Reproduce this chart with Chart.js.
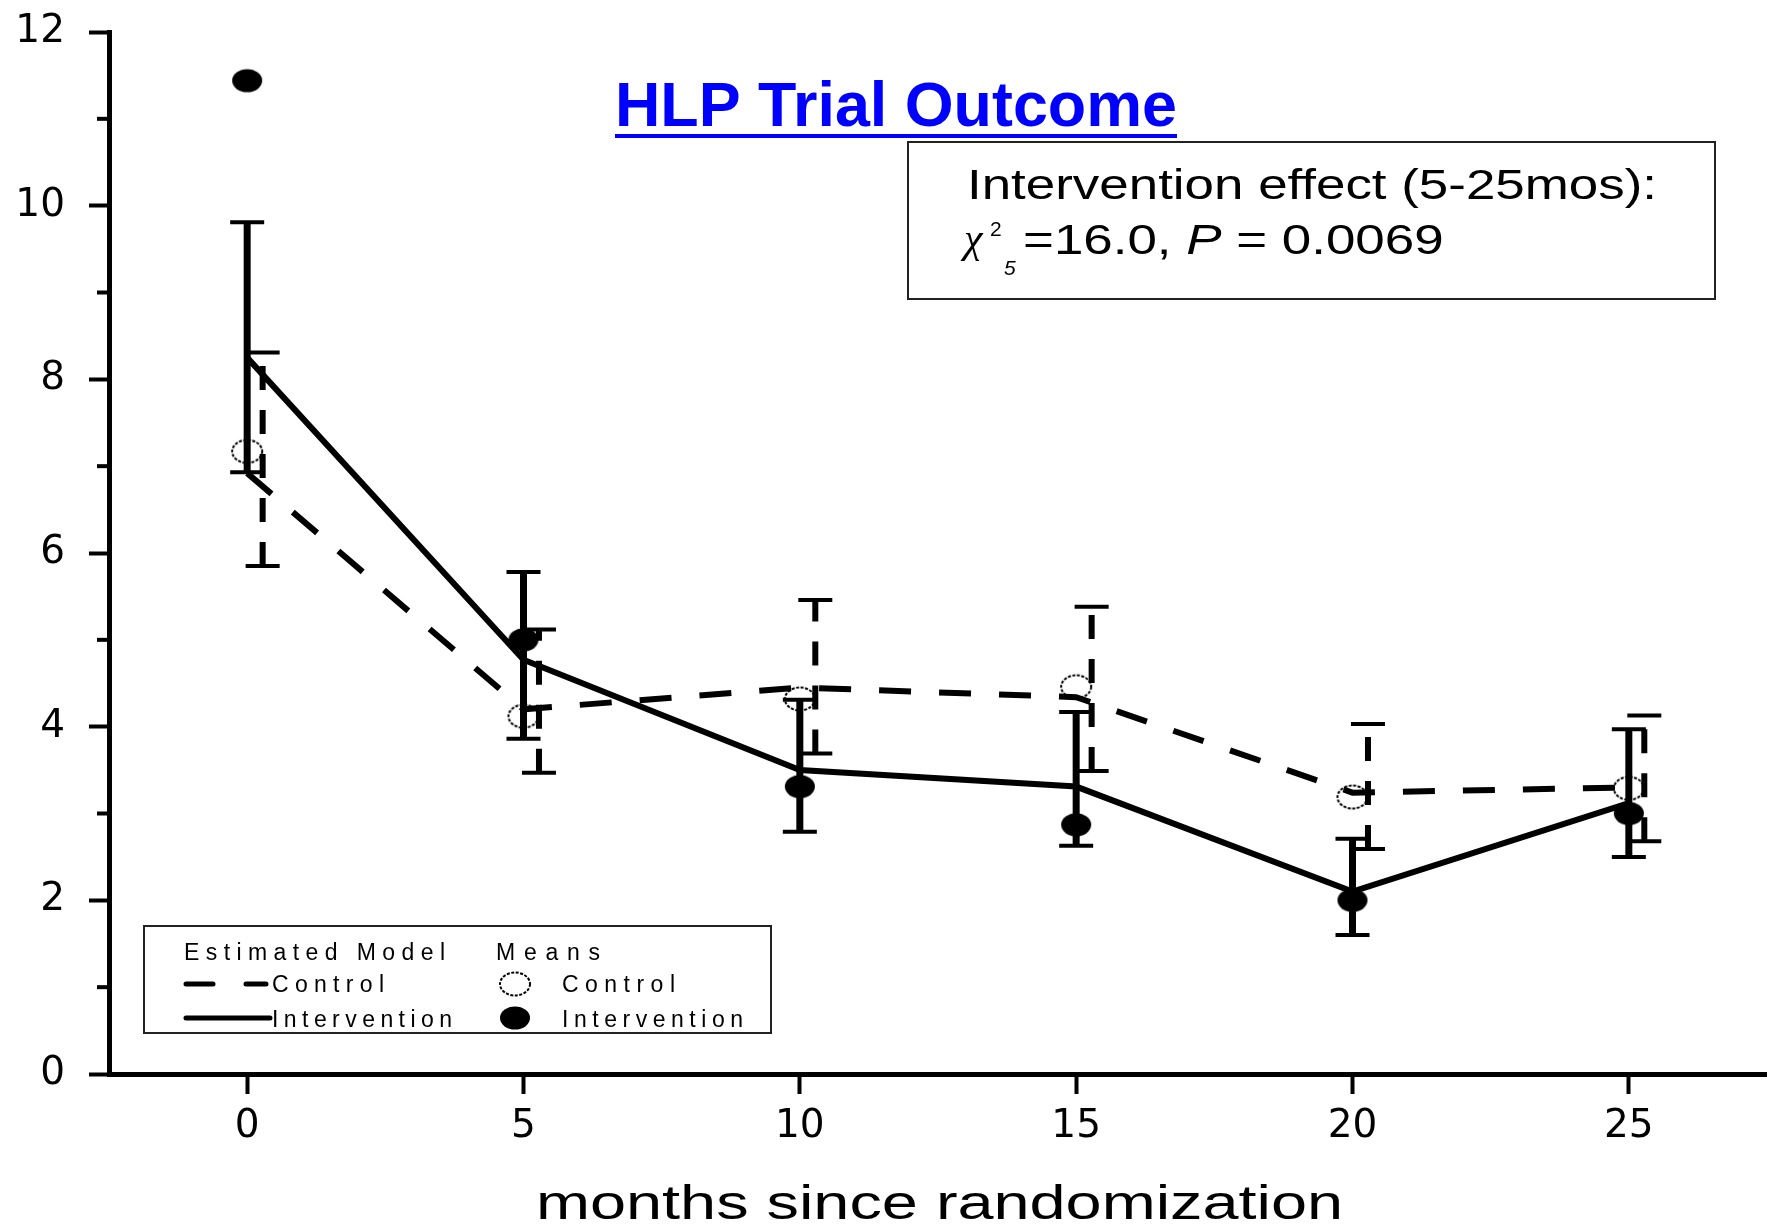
<!DOCTYPE html>
<html>
<head>
<meta charset="utf-8">
<title>HLP Trial Outcome</title>
<script src="https://cdn.jsdelivr.net/npm/chart.js@4.4.1/dist/chart.umd.min.js"></script>
<style>
  html, body { margin: 0; padding: 0; background: #fff; }
  #wrap { width: 1767px; height: 1226px; }
</style>
</head>
<body>
<div id="wrap"><canvas id="chart" width="1767" height="1226"></canvas></div>
<script>
// ---------------- Data ----------------
const months = [0, 5, 10, 15, 20, 25];
const controlModel = [6.92, 4.20, 4.45, 4.34, 3.24, 3.30];
const interventionModel = [8.25, 4.77, 3.50, 3.31, 2.10, 3.12];
const controlMean = [7.17, 4.12, 4.32, 4.46, 3.19, 3.29];
const interventionMean = [11.44, 5.00, 3.31, 2.87, 2.00, 3.00];
const interventionLow = [6.93, 3.86, 2.79, 2.63, 1.60, 2.50];
const interventionHigh = [9.81, 5.78, 4.31, 4.17, 2.71, 3.97];
const controlLow = [5.85, 3.47, 3.69, 3.49, 2.59, 2.68];
const controlHigh = [8.31, 5.12, 5.46, 5.38, 4.03, 4.13];
const xTicks = [0, 5, 10, 15, 20, 25];
const yTicks = [0, 2, 4, 6, 8, 10, 12];
const yMinorTicks = [1, 3, 5, 7, 9, 11];

// control error bars sit a little to the right of the month
const controlShift = 0.28;

// ---------------- Markers ----------------
function ellipseMarker(filled){
    const c = document.createElement('canvas');
    c.width = 34; c.height = 28;
    const g = c.getContext('2d');
    g.beginPath();
    g.ellipse(17, 14, 15, 11.5, 0, 0, Math.PI * 2);
    if(filled){ g.fillStyle = '#000'; g.fill(); }
    else { g.setLineDash([3, 1.5]); g.lineWidth = 2; g.strokeStyle = '#000'; g.stroke(); }
    return c;
}
const openDot = ellipseMarker(false);
const fullDot = ellipseMarker(true);

const pts = (ys, shift) => months.map((m, i) => ({x: m + (shift || 0), y: ys[i]}));

// ---------------- Datasets ----------------
const datasets = [
    {label: 'Control model', data: pts(controlModel), borderColor: '#000', borderWidth: 6, borderDash: [32, 28], pointRadius: 0},
    {label: 'Intervention model', data: pts(interventionModel), borderColor: '#000', borderWidth: 6, pointRadius: 0},
    {label: 'Control means', data: pts(controlMean), showLine: false, pointStyle: openDot, pointRadius: 12},
    {label: 'Intervention means', data: pts(interventionMean), showLine: false, pointStyle: fullDot, pointRadius: 12}
];

months.forEach((m, i) => {
    datasets.push({
        label: 'Intervention CI ' + m,
        data: [{x: m, y: interventionLow[i]}, {x: m, y: interventionHigh[i]}],
        borderColor: '#000', borderWidth: 7,
        pointStyle: 'line', pointRadius: 17, pointBorderWidth: 4, pointBorderColor: '#000'
    });
    datasets.push({
        label: 'Control CI ' + m,
        data: [{x: m + controlShift, y: controlLow[i]}, {x: m + controlShift, y: controlHigh[i]}],
        borderColor: '#000', borderWidth: 6, borderDash: [24, 20],
        pointStyle: 'line', pointRadius: 17, pointBorderWidth: 4, pointBorderColor: '#000'
    });
});

// ---------------- Text helpers ----------------
function stretchText(ctx, text, x, y, w, font){
    ctx.save();
    ctx.font = font;
    const nat = ctx.measureText(text).width;
    ctx.translate(x, y);
    ctx.scale(w / nat, 1);
    ctx.fillText(text, 0, 0);
    ctx.restore();
}
function spacedText(ctx, text, x, y, w, font){
    ctx.save();
    ctx.font = font;
    const nat = ctx.measureText(text).width;
    if('letterSpacing' in ctx){
        ctx.letterSpacing = ((w - nat) / (text.length - 1)) + 'px';
        ctx.fillText(text, x, y);
    } else {
        ctx.translate(x, y); ctx.scale(w / nat, 1); ctx.fillText(text, 0, 0);
    }
    ctx.restore();
}

// ---------------- Extras: minor ticks, title, boxes ----------------
const extras = {
    id: 'extras',
    afterDraw(chart){
        const ctx = chart.ctx;
        const ys = chart.scales.y;
        const left = chart.chartArea.left;

        ctx.save();
        ctx.strokeStyle = '#000';
        ctx.lineWidth = 4;
        yMinorTicks.forEach(v => {
            const py = ys.getPixelForValue(v);
            ctx.beginPath(); ctx.moveTo(left - 12, py); ctx.lineTo(left, py); ctx.stroke();
        });

        ctx.textBaseline = 'alphabetic';
        ctx.textAlign = 'left';

        // title
        ctx.fillStyle = '#0000ff';
        stretchText(ctx, 'HLP Trial Outcome', 615, 126, 562, 'bold 63px "Liberation Sans", Arial, sans-serif');
        ctx.fillRect(615, 134, 562, 4);

        // statistics box
        ctx.fillStyle = '#000';
        ctx.lineWidth = 2;
        ctx.strokeStyle = '#222';
        ctx.strokeRect(908, 142, 807, 157);
        const f42 = '42px "Liberation Sans", Arial, sans-serif';
        ctx.font = f42;
        const line1 = 'Intervention effect (5-25mos):';
        const sx = 690 / ctx.measureText(line1).width;
        stretchText(ctx, line1, 967, 199, 690, f42);

        ctx.font = 'italic 42px "Liberation Serif", serif';
        ctx.fillText('\u03C7', 964, 252);
        ctx.font = '21px "Liberation Sans", Arial, sans-serif';
        ctx.fillText('2', 990, 236);
        ctx.font = 'italic 21px "Liberation Sans", Arial, sans-serif';
        ctx.fillText('5', 1004, 275);

        ctx.save();
        ctx.translate(1023, 254);
        ctx.scale(sx, 1);
        let cx = 0;
        ctx.font = f42;
        ctx.fillText('=16.0, ', cx, 0); cx += ctx.measureText('=16.0, ').width;
        ctx.font = 'italic ' + f42;
        ctx.fillText('P', cx, 0); cx += ctx.measureText('P').width;
        ctx.font = f42;
        ctx.fillText(' = 0.0069', cx, 0);
        ctx.restore();

        // legend box
        ctx.strokeRect(144, 926, 627, 107);
        const f23 = '23px "Liberation Sans", Arial, sans-serif';
        spacedText(ctx, 'Estimated Model', 184, 960, 261, f23);
        spacedText(ctx, 'Means', 496, 960, 104, f23);
        spacedText(ctx, 'Control', 272, 992, 112, f23);
        spacedText(ctx, 'Intervention', 272, 1027, 180, f23);
        spacedText(ctx, 'Control', 562, 992, 113, f23);
        spacedText(ctx, 'Intervention', 562, 1027, 181, f23);

        ctx.strokeStyle = '#000';
        ctx.lineWidth = 5;
        ctx.lineCap = 'round';
        ctx.beginPath();
        ctx.moveTo(186, 984); ctx.lineTo(213, 984);
        ctx.moveTo(246, 984); ctx.lineTo(266, 984);
        ctx.moveTo(186, 1018); ctx.lineTo(270, 1018);
        ctx.stroke();
        ctx.drawImage(openDot, 515 - 17, 984 - 14);
        ctx.drawImage(fullDot, 515 - 17, 1018 - 14);

        // x axis title
        stretchText(ctx, 'months since randomization', 536, 1219, 807, '48px "Liberation Sans", Arial, sans-serif');
        ctx.restore();
    }
};

// ---------------- Chart ----------------
const ctx = document.getElementById('chart').getContext('2d');
new Chart(ctx, {
    type: 'line',
    data: {datasets},
    options: {
        responsive: false,
        animation: false,
        events: [],
        devicePixelRatio: 1,
        layout: {autoPadding: false, padding: {top: 32, right: 0, left: 0, bottom: 0}},
        plugins: {legend: {display: false}, tooltip: {enabled: false}},
        scales: {
            x: {
                type: 'linear', min: -2.5, max: 27.5,
                afterBuildTicks: s => { s.ticks = xTicks.map(v => ({value: v})); },
                afterFit: s => { s.height = 152; s.paddingLeft = 0; s.paddingRight = 0; },
                grid: {drawOnChartArea: false, drawTicks: true, tickLength: 20, tickWidth: 4, tickColor: '#000'},
                border: {display: true, color: '#000', width: 5},
                ticks: {color: '#000', font: {family: 'DejaVu Sans', size: 39}, padding: 9, maxRotation: 0, autoSkip: false}
            },
            y: {
                type: 'linear', min: 0, max: 12,
                afterBuildTicks: s => { s.ticks = yTicks.map(v => ({value: v})); },
                afterFit: s => { s.width = 109; s.paddingTop = 0; s.paddingBottom = 0; },
                grid: {drawOnChartArea: false, drawTicks: true, tickLength: 20, tickWidth: 4, tickColor: '#000'},
                border: {display: true, color: '#000', width: 5},
                ticks: {color: '#000', font: {family: 'DejaVu Sans', size: 39}, padding: 24}
            }
        }
    },
    plugins: [extras]
});
</script>
</body>
</html>
